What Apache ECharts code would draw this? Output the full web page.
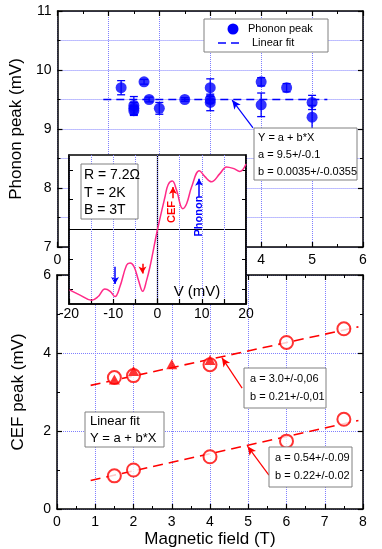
<!DOCTYPE html>
<html>
<head>
<meta charset="utf-8">
<script src="https://cdn.jsdelivr.net/npm/echarts@6/dist/echarts.min.js"></script>
<style>html,body{margin:0;padding:0;background:#fff}#main{width:382px;height:549px}</style>
</head>
<body>
<div id="main"></div>
<script>
// top panel: phonon peak vs field
var phononField = [1.25, 1.5, 1.5, 1.5, 1.7, 1.8, 2, 2.5, 3, 3, 3, 4, 4, 4.5, 5, 5];
var phononPeak = [9.70, 9.40, 9.35, 9.31, 9.80, 9.50, 9.35, 9.50, 9.70, 9.50, 9.45, 9.80, 9.41, 9.70, 9.45, 9.20];
var phononErr = [0.12, 0.15, 0.10, 0.08, 0.04, 0.04, 0.10, 0.03, 0.15, 0.06, 0.14, 0.07, 0.20, 0.07, 0.12, 0.20];
var phononFitX = [0.9, 5.3];
var phononFitY = [9.5, 9.5];

// bottom panel: CEF peak vs field
var cefField = [1.5, 2, 4, 6, 7.5];
var cefUpper = [3.37, 3.42, 3.70, 4.27, 4.62];
var cefLower = [0.85, 1.00, 1.34, 1.74, 2.30];
var triField = [1.5, 2, 3, 4];
var triPeak = [3.32, 3.54, 3.71, 3.82];
var upperFitX = [0.88, 7.88];
var upperFitY = [3.17, 4.67];
var lowerFitX = [0.88, 7.88];
var lowerFitY = [0.73, 2.27];

// inset: dI/dV-like trace (arb. units)
var insetV = [-19.9, -17.5, -14.9, -13.4, -11.9, -10.7, -9.6, -8.5, -7.0, -6.2, -5.3, -4.3, -3.35, -2.45, -1.7, 0.0, 1.7, 2.4, 3.35, 4.3, 5.7, 6.6, 7.7, 9.45, 10.7, 12.2, 14.1, 15.6, 17.1, 18.6, 20];
var insetG = [-0.81, -0.88, -0.95, -0.90, -0.80, -0.83, -0.90, -0.77, -0.48, -0.45, -0.50, -0.68, -0.83, -0.68, -0.50, 0.0, 0.44, 0.60, 0.65, 0.53, 0.28, 0.35, 0.57, 0.79, 0.71, 0.64, 0.75, 0.84, 0.82, 0.78, 0.88];

var FONT = '"Liberation Sans", Arial, sans-serif';
var gridLine = { lineStyle: { color: '#7f7fff', type: 'dotted', width: 1 } };

function zip(a, b) { return a.map(function (v, i) { return [v, b[i]]; }); }

function frameX(grid, min, max, step, pos, labels, extra) {
  var ax = {
    type: 'value', gridIndex: grid, min: min, max: max, interval: step, position: pos,
    axisLine: { show: true, onZero: false, lineStyle: { color: '#000', width: 1.5 } },
    axisTick: { show: true, inside: true, length: 5, lineStyle: { color: '#000', width: 1.2 } },
    minorTick: { show: true, splitNumber: 2, length: 3, lineStyle: { color: '#000', width: 1 } },
    axisLabel: { show: labels, color: '#000', fontSize: 14, fontFamily: FONT, margin: 6 },
    splitLine: { show: false }
  };
  return Object.assign(ax, extra || {});
}

var option = {
  animation: false,
  backgroundColor: '#fff',
  grid: [
    { left: 57, top: 11, width: 306, height: 236 },
    { left: 57, top: 275, width: 306, height: 234 },
    { left: 69, top: 155, width: 177, height: 149, show: true, backgroundColor: '#fff', borderColor: '#000', borderWidth: 1.5, z: 5 }
  ],
  xAxis: [
    frameX(0, 0, 6, 1, 'bottom', true, { splitLine: Object.assign({ show: true }, gridLine) }),
    frameX(0, 0, 6, 1, 'top', false),
    frameX(1, 0, 8, 1, 'bottom', true, {
      splitLine: Object.assign({ show: true }, gridLine),
      name: 'Magnetic field (T)', nameLocation: 'middle', nameGap: 22,
      nameTextStyle: { fontSize: 17, fontFamily: FONT, color: '#000' }
    }),
    frameX(1, 0, 8, 1, 'top', false),
    frameX(2, -20, 20, 5, 'bottom', true, {
      z: 6,
      minorTick: { show: false },
      axisLabel: { show: true, color: '#000', fontSize: 14, fontFamily: FONT, margin: 3,
        formatter: function (v) { return v % 10 === 0 ? String(v) : ''; } },
      splitLine: Object.assign({ show: true }, gridLine)
    })
  ],
  yAxis: [
    frameX(0, 7, 11, 1, 'left', true, {
      splitLine: Object.assign({ show: true }, gridLine),
      minorSplitLine: Object.assign({ show: true }, gridLine),
      name: 'Phonon peak (mV)', nameLocation: 'middle', nameGap: 30,
      nameTextStyle: { fontSize: 17, fontFamily: FONT, color: '#000' }
    }),
    frameX(0, 7, 11, 1, 'right', false),
    frameX(1, 0, 6, 2, 'left', true, {
      splitLine: Object.assign({ show: true }, gridLine),
      name: 'CEF peak (mV)', nameLocation: 'middle', nameGap: 30,
      nameTextStyle: { fontSize: 17, fontFamily: FONT, color: '#000' }
    }),
    frameX(1, 0, 6, 2, 'right', false),
    frameX(2, -1, 1, 0.2, 'left', false, {
      z: 6, minorTick: { show: false }, splitLine: { show: false },
      axisTick: { show: true, inside: true, length: 4, customValues: [-0.8, -0.4, 0, 0.4, 0.8], lineStyle: { color: '#000' } }
    }),
    frameX(2, -1, 1, 0.2, 'right', false, {
      z: 6, minorTick: { show: false }, splitLine: { show: false },
      axisTick: { show: true, inside: true, length: 4, customValues: [-0.8, -0.4, 0, 0.4, 0.8], lineStyle: { color: '#000' } }
    })
  ],
  series: [
    // phonon error bars
    {
      type: 'custom', xAxisIndex: 0, yAxisIndex: 0, z: 3, silent: true,
      data: phononField.map(function (x, i) { return [x, phononPeak[i] - phononErr[i], phononPeak[i] + phononErr[i]]; }),
      renderItem: function (params, api) {
        var lo = api.coord([api.value(0), api.value(1)]);
        var hi = api.coord([api.value(0), api.value(2)]);
        var w = 4;
        var st = { stroke: '#0000ff', lineWidth: 1.3 };
        return { type: 'group', children: [
          { type: 'line', shape: { x1: lo[0], y1: lo[1], x2: hi[0], y2: hi[1] }, style: st },
          { type: 'line', shape: { x1: lo[0] - w, y1: lo[1], x2: lo[0] + w, y2: lo[1] }, style: st },
          { type: 'line', shape: { x1: hi[0] - w, y1: hi[1], x2: hi[0] + w, y2: hi[1] }, style: st }
        ] };
      }
    },
    {
      name: 'Phonon peak', type: 'scatter', xAxisIndex: 0, yAxisIndex: 0, z: 4,
      symbol: 'circle', symbolSize: 11, itemStyle: { color: '#0000ff' },
      data: zip(phononField, phononPeak)
    },
    {
      name: 'Linear fit', type: 'line', xAxisIndex: 0, yAxisIndex: 0, z: 3, symbol: 'none',
      lineStyle: { color: '#0000ff', width: 1.5, type: [8, 5] },
      data: zip(phononFitX, phononFitY),
      markLine: {
        silent: true, symbol: ['none', 'arrow'], symbolSize: [6, 9], label: { show: false },
        lineStyle: { color: '#0000ff', width: 1.2, type: 'solid' },
        data: [[{ coord: [3.84, 9.02] }, { coord: [3.43, 9.49] }]]
      }
    },
    // CEF fits
    {
      type: 'line', xAxisIndex: 2, yAxisIndex: 2, z: 3, symbol: 'none',
      lineStyle: { color: '#ff0000', width: 1.6, type: [10, 6] },
      data: zip(upperFitX, upperFitY),
      markLine: {
        silent: true, symbol: ['none', 'arrow'], symbolSize: [6, 9], label: { show: false },
        lineStyle: { color: '#ff0000', width: 1.2, type: 'solid' },
        data: [[{ coord: [4.84, 3.10] }, { coord: [4.31, 3.88] }]]
      }
    },
    {
      type: 'line', xAxisIndex: 2, yAxisIndex: 2, z: 3, symbol: 'none',
      lineStyle: { color: '#ff0000', width: 1.6, type: [10, 6] },
      data: zip(lowerFitX, lowerFitY),
      markLine: {
        silent: true, symbol: ['none', 'arrow'], symbolSize: [6, 9], label: { show: false },
        lineStyle: { color: '#ff0000', width: 1.2, type: 'solid' },
        data: [[{ coord: [5.54, 0.87] }, { coord: [4.98, 1.61] }]]
      }
    },
    {
      type: 'scatter', xAxisIndex: 2, yAxisIndex: 2, z: 4, symbol: 'circle', symbolSize: 13,
      itemStyle: { color: '#fff', borderColor: '#ff0000', borderWidth: 2 },
      data: zip(cefField, cefUpper)
    },
    {
      type: 'scatter', xAxisIndex: 2, yAxisIndex: 2, z: 4, symbol: 'circle', symbolSize: 13,
      itemStyle: { color: '#fff', borderColor: '#ff0000', borderWidth: 2 },
      data: zip(cefField, cefLower)
    },
    {
      type: 'scatter', xAxisIndex: 2, yAxisIndex: 2, z: 5, symbol: 'triangle', symbolSize: [11, 10],
      itemStyle: { color: '#ff0000' },
      data: zip(triField, triPeak)
    },
    // inset trace
    {
      type: 'line', xAxisIndex: 4, yAxisIndex: 4, z: 8, symbol: 'none', smooth: 0.4,
      lineStyle: { color: '#ff2a88', width: 1.5 },
      data: zip(insetV, insetG),
      markLine: {
        silent: true, symbol: ['none', 'arrow'], symbolSize: [6, 7], label: { show: false },
        lineStyle: { width: 1.5, type: 'solid' },
        data: [
          [{ coord: [-9.6, -0.50], lineStyle: { color: '#0000ff' } }, { coord: [-9.6, -0.73] }],
          [{ coord: [-3.4, -0.46], lineStyle: { color: '#ff0000' } }, { coord: [-3.4, -0.59] }],
          [{ coord: [3.5, 0.42], lineStyle: { color: '#ff0000' } }, { coord: [3.5, 0.57] }],
          [{ coord: [9.4, 0.44], lineStyle: { color: '#0000ff' } }, { coord: [9.4, 0.68] }]
        ]
      }
    },
    {
      type: 'line', xAxisIndex: 4, yAxisIndex: 4, z: 7, symbol: 'none', data: [],
      markLine: {
        silent: true, symbol: 'none', label: { show: false },
        lineStyle: { color: '#000', width: 1.2, type: 'solid' },
        data: [{ xAxis: 0 }, { yAxis: 0 }]
      }
    }
  ],
  graphic: [
    // legend
    { type: 'rect', z: 10, shape: { x: 204, y: 19, width: 124, height: 33 }, style: { fill: '#fff', stroke: '#808080', lineWidth: 1 } },
    { type: 'circle', z: 11, shape: { cx: 233, cy: 29, r: 5.5 }, style: { fill: '#0000ff' } },
    { type: 'text', z: 11, x: 248, y: 29, style: { text: 'Phonon peak', font: '11px ' + FONT, fill: '#000', verticalAlign: 'middle' } },
    { type: 'line', z: 11, shape: { x1: 218, y1: 43, x2: 243, y2: 43 }, style: { stroke: '#0000ff', lineWidth: 1.5, lineDash: [8, 5] } },
    { type: 'text', z: 11, x: 252, y: 43, style: { text: 'Linear fit', font: '11px ' + FONT, fill: '#000', verticalAlign: 'middle' } },
    // top fit box
    { type: 'rect', z: 10, shape: { x: 254, y: 128, width: 103, height: 52 }, style: { fill: '#fff', stroke: '#808080', lineWidth: 1 } },
    { type: 'text', z: 11, x: 258, y: 138, style: { text: 'Y = a + b*X', font: '11px ' + FONT, fill: '#000', verticalAlign: 'middle' } },
    { type: 'text', z: 11, x: 258, y: 155, style: { text: 'a = 9.5+/-0.1', font: '11px ' + FONT, fill: '#000', verticalAlign: 'middle' } },
    { type: 'text', z: 11, x: 258, y: 172, style: { text: 'b = 0.0035+/-0.0355', font: '11px ' + FONT, fill: '#000', verticalAlign: 'middle' } },
    // inset parameters
    { type: 'rect', z: 10, shape: { x: 81, y: 164, width: 57, height: 55 }, style: { fill: '#fff', stroke: '#808080', lineWidth: 1 } },
    { type: 'text', z: 11, x: 84, y: 175, style: { text: 'R = 7.2\u03A9', font: '14px ' + FONT, fill: '#000', verticalAlign: 'middle' } },
    { type: 'text', z: 11, x: 84, y: 193, style: { text: 'T = 2K', font: '14px ' + FONT, fill: '#000', verticalAlign: 'middle' } },
    { type: 'text', z: 11, x: 84, y: 210, style: { text: 'B = 3T', font: '14px ' + FONT, fill: '#000', verticalAlign: 'middle' } },
    { type: 'text', z: 11, x: 197, y: 292, style: { text: 'V (mV)', font: '15px ' + FONT, fill: '#000', align: 'center', verticalAlign: 'middle' } },
    { type: 'text', z: 11, x: 172, y: 212, rotation: Math.PI / 2, style: { text: 'CEF', font: 'bold 11px ' + FONT, fill: '#ff0000', align: 'center', verticalAlign: 'middle' } },
    { type: 'text', z: 11, x: 199, y: 216, rotation: Math.PI / 2, style: { text: 'Phonon', font: 'bold 11px ' + FONT, fill: '#0000ff', align: 'center', verticalAlign: 'middle' } },
    // bottom boxes
    { type: 'rect', z: 10, shape: { x: 244, y: 368, width: 82, height: 40 }, style: { fill: '#fff', stroke: '#808080', lineWidth: 1 } },
    { type: 'text', z: 11, x: 250, y: 379, style: { text: 'a = 3.0+/-0,06', font: '11px ' + FONT, fill: '#000', verticalAlign: 'middle' } },
    { type: 'text', z: 11, x: 250, y: 397, style: { text: 'b = 0.21+/-0,01', font: '11px ' + FONT, fill: '#000', verticalAlign: 'middle' } },
    { type: 'rect', z: 10, shape: { x: 269, y: 447, width: 83, height: 40 }, style: { fill: '#fff', stroke: '#808080', lineWidth: 1 } },
    { type: 'text', z: 11, x: 275, y: 458, style: { text: 'a = 0.54+/-0.09', font: '11px ' + FONT, fill: '#000', verticalAlign: 'middle' } },
    { type: 'text', z: 11, x: 275, y: 476, style: { text: 'b = 0.22+/-0.02', font: '11px ' + FONT, fill: '#000', verticalAlign: 'middle' } },
    { type: 'rect', z: 10, shape: { x: 85, y: 412, width: 79, height: 35 }, style: { fill: '#fff', stroke: '#808080', lineWidth: 1 } },
    { type: 'text', z: 11, x: 90, y: 421, style: { text: 'Linear fit', font: '13px ' + FONT, fill: '#000', verticalAlign: 'middle' } },
    { type: 'text', z: 11, x: 90, y: 438, style: { text: 'Y = a + b*X', font: '13px ' + FONT, fill: '#000', verticalAlign: 'middle' } }
  ]
};

var chart = echarts.init(document.getElementById('main'), null, { renderer: 'canvas' });
chart.setOption(option);
</script>
</body>
</html>
